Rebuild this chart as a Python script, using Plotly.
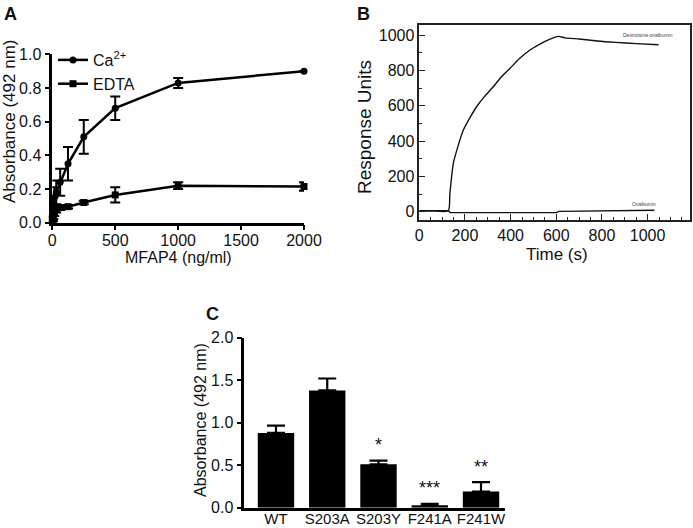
import plotly.graph_objects as go

W, H = 693, 528
FONT = "Liberation Sans, Arial, sans-serif"

# ---------------- Panel A data ----------------
A_conc = [0, 3.9, 7.8, 15.6, 31.25, 62.5, 125, 250, 500, 1000, 2000]
A_ca = [0.04, 0.07, 0.11, 0.15, 0.18, 0.24, 0.35, 0.51, 0.68, 0.83, 0.90]
A_ca_err = [0.02, 0.03, 0.04, 0.06, 0.07, 0.08, 0.10, 0.10, 0.07, 0.03, 0.0]
A_edta = [0.02, 0.03, 0.04, 0.06, 0.08, 0.09, 0.095, 0.12, 0.165, 0.22, 0.215]
A_edta_err = [0.02, 0.02, 0.02, 0.02, 0.02, 0.015, 0.01, 0.01, 0.045, 0.02, 0.025]
A_xticks = [0, 500, 1000, 1500, 2000]
A_yticks = [0.0, 0.2, 0.4, 0.6, 0.8, 1.0]

# ---------------- Panel B data ----------------
B_time_desm = [0, 60, 127, 134, 149, 171, 193, 220, 251, 285, 324, 360, 397, 440, 485,
               530, 570, 608, 640, 700, 780, 860, 950, 1048]
B_ru_desm = [5, 5, 5, 104, 274, 377, 462, 528, 594, 651, 707, 764, 811, 868, 915,
             950, 975, 992, 984, 977, 966, 958, 951, 945]
B_time_ova = [0, 127, 135, 300, 450, 600, 612, 700, 850, 1030]
B_ru_ova = [5, 5, -5, -5, -5, -5, 2, 4, 6, 8]
B_xticks = [0, 200, 400, 600, 800, 1000]
B_yticks = [0, 200, 400, 600, 800, 1000]

# ---------------- Panel C data ----------------
C_labels = ["WT", "S203A", "S203Y", "F241A", "F241W"]
C_vals = [0.88, 1.38, 0.51, 0.03, 0.19]
C_err = [0.085, 0.14, 0.045, 0.015, 0.11]
C_sig = ["", "", "*", "***", "**"]
C_yticks = [0.0, 0.5, 1.0, 1.5, 2.0]


def px_x(x):
    return x / W


def px_y(y):
    return 1 - y / H


fig = go.Figure()

# Panel A traces
fig.add_trace(go.Scatter(
    x=A_conc, y=A_ca, name="Ca<sup>2+</sup>", mode="lines+markers",
    line=dict(color="black", width=2.5),
    marker=dict(symbol="circle", size=7, color="black"),
    error_y=dict(type="data", array=A_ca_err, color="black", thickness=2, width=5),
    cliponaxis=False, xaxis="x", yaxis="y"))
fig.add_trace(go.Scatter(
    x=A_conc, y=A_edta, name="EDTA", mode="lines+markers",
    line=dict(color="black", width=2.5),
    marker=dict(symbol="square", size=7, color="black"),
    error_y=dict(type="data", array=A_edta_err, color="black", thickness=2, width=5),
    cliponaxis=False, xaxis="x", yaxis="y"))

# Panel B traces
fig.add_trace(go.Scatter(
    x=B_time_desm, y=B_ru_desm, mode="lines", showlegend=False,
    line=dict(color="#111", width=1.4, shape="spline", smoothing=0.6),
    xaxis="x2", yaxis="y2"))
fig.add_trace(go.Scatter(
    x=B_time_ova, y=B_ru_ova, mode="lines", showlegend=False,
    line=dict(color="#111", width=1.4),
    xaxis="x2", yaxis="y2"))

# Panel C traces
fig.add_trace(go.Bar(
    x=list(range(len(C_labels))), y=C_vals, width=0.71, showlegend=False,
    marker=dict(color="black", line=dict(width=0)),
    error_y=dict(type="data", symmetric=False, array=C_err,
                 arrayminus=[0] * len(C_err), color="black", thickness=2.2, width=9),
    xaxis="x3", yaxis="y3"))

tickfont = dict(family=FONT, size=16, color="#111")

fig.update_layout(
    width=W, height=H,
    margin=dict(l=0, r=0, t=0, b=0, autoexpand=False),
    paper_bgcolor="white", plot_bgcolor="white",
    font=dict(family=FONT, color="#111"),
    showlegend=True,
    legend=dict(x=px_x(53), y=px_y(43), xanchor="left", yanchor="top",
                bgcolor="rgba(0,0,0,0)", font=dict(family=FONT, size=16, color="#111"),
                itemwidth=30, tracegroupgap=0),
    # ---- Panel A axes
    xaxis=dict(domain=[px_x(52.3), px_x(304)], range=[0, 2000], tickvals=A_xticks,
               ticktext=[str(v) for v in A_xticks], automargin=False,
               showline=True, linewidth=2.5, linecolor="black", ticks="outside",
               ticklen=5, tickwidth=2, tickcolor="black", showgrid=False,
               zeroline=False, tickfont=tickfont, anchor="y", ticklabelstandoff=-4),
    yaxis=dict(domain=[px_y(222.7), px_y(54.3)], range=[0, 1.0], tickvals=A_yticks,
               ticktext=[f"{v:.1f}" for v in A_yticks], automargin=False,
               showline=True, linewidth=2.5, linecolor="black", ticks="outside",
               ticklen=5, tickwidth=2, tickcolor="black", showgrid=False,
               zeroline=False, tickfont=tickfont, anchor="x"),
    # ---- Panel B axes
    xaxis2=dict(domain=[px_x(419.3), px_x(690)], range=[0, 1185.7], tickvals=B_xticks,
                automargin=False,
                showline=True, linewidth=1.5, linecolor="#222", mirror=True,
                ticks="inside", ticklen=6, tickwidth=1.3, tickcolor="#222",
                minor=dict(dtick=50, tick0=0, ticks="inside", ticklen=3, tickwidth=1, tickcolor="#222"),
                showgrid=False, zeroline=False, tickfont=tickfont, anchor="y2"),
    yaxis2=dict(domain=[px_y(220), px_y(25)], range=[-47, 1056.6], tickvals=B_yticks,
                automargin=False,
                showline=True, linewidth=1.5, linecolor="#222", mirror=True,
                ticks="inside", ticklen=6, tickwidth=1.3, tickcolor="#222",
                minor=dict(dtick=100, tick0=0, ticks="inside", ticklen=3, tickwidth=1, tickcolor="#222"),
                showgrid=False, zeroline=False, tickfont=tickfont, anchor="x2"),
    # ---- Panel C axes
    xaxis3=dict(domain=[px_x(244.3), px_x(505)], range=[-0.618, 4.468],
                tickvals=list(range(len(C_labels))), ticktext=C_labels, automargin=False,
                showline=True, linewidth=2.5, linecolor="black", ticks="",
                showgrid=False, zeroline=False, ticklabelstandoff=-4,
                tickfont=dict(family=FONT, size=15, color="#111"), anchor="y3"),
    yaxis3=dict(domain=[px_y(507.7), px_y(337.7)], range=[0, 2.0], tickvals=C_yticks,
                ticktext=[f"{v:.1f}" for v in C_yticks], automargin=False,
                showline=True, linewidth=2.5, linecolor="black", ticks="outside",
                ticklen=5, tickwidth=2, tickcolor="black", showgrid=False,
                zeroline=False, tickfont=tickfont, anchor="x3"),
)

ann = []


def add_text(text, x, y, size, bold=False, angle=0, color="#111"):
    ann.append(dict(text=f"<b>{text}</b>" if bold else text, x=px_x(x), y=px_y(y),
                    xref="paper", yref="paper", showarrow=False, textangle=angle,
                    font=dict(family=FONT, size=size, color=color),
                    xanchor="center", yanchor="middle"))


# panel letters
add_text("A", 10, 14, 18, bold=True)
add_text("B", 363, 14, 18, bold=True)
add_text("C", 213, 314, 18, bold=True)

# axis titles
add_text("Absorbance (492 nm)", 9, 122, 17, angle=-90)
add_text("MFAP4 (ng/ml)", 178, 257, 16)
add_text("Response Units", 365, 127, 19, angle=-90)
add_text("Time (s)", 557, 255, 17)
add_text("Absorbance (492 nm)", 200, 420, 16, angle=-90)

# panel B curve labels
ann.append(dict(text="Desmosine-ovalbumin", x=1000, y=1000, xref="x2", yref="y2",
                showarrow=False, font=dict(family=FONT, size=5, color="#444"),
                xanchor="center", yanchor="middle"))
ann.append(dict(text="Ovalbumin", x=985, y=45, xref="x2", yref="y2",
                showarrow=False, font=dict(family=FONT, size=5, color="#444"),
                xanchor="center", yanchor="middle"))

# significance stars
for i, s in enumerate(C_sig):
    if s:
        ann.append(dict(text=s, x=i, y=C_vals[i] + C_err[i] + 0.04, xref="x3", yref="y3",
                        showarrow=False, font=dict(family=FONT, size=18, color="#111"),
                        xanchor="center", yanchor="bottom"))

fig.update_layout(annotations=ann)
fig.write_html("out.html", config={"displayModeBar": False},
               post_script="document.body.style.margin='0px';")
